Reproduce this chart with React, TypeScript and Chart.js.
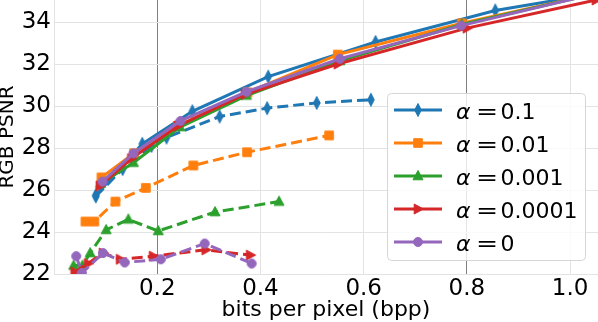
import React, { useEffect, useRef } from "react";
import { Chart, registerables } from "chart.js";

Chart.register(...registerables);

// ---- Data ----
const ALPHA_LABELS = ["0.1", "0.01", "0.001", "0.0001", "0"];
const COLORS = ["#1f77b4", "#ff7f0e", "#2ca02c", "#d62728", "#9467bd"];
const MARKERS = ["thinDiamond", "square", "triangleUp", "triangleRight", "circle"];

// solid curves
const bppSolidA1 = [0.081, 0.171, 0.268, 0.415, 0.623, 0.855, 1.06];
const psnrSolidA1 = [25.75, 28.2, 29.75, 31.4, 33.05, 34.55, 35.4];
const bppSolidA2 = [0.092, 0.155, 0.24, 0.375, 0.55, 0.79, 1.04];
const psnrSolidA2 = [26.6, 27.75, 29.05, 30.65, 32.45, 33.94, 35.3];
const bppSolidA3 = [0.09, 0.154, 0.244, 0.373, 0.554, 0.79, 1.04];
const psnrSolidA3 = [26.3, 27.3, 29.0, 30.5, 32.15, 33.88, 35.3];
const bppSolidA4 = [0.089, 0.15, 0.24, 0.37, 0.55, 0.8, 1.05];
const psnrSolidA4 = [26.2, 27.5, 29.05, 30.55, 32.0, 33.71, 35.05];
const bppSolidA5 = [0.094, 0.154, 0.245, 0.373, 0.554, 0.789, 1.04];
const psnrSolidA5 = [26.4, 27.75, 29.29, 30.68, 32.25, 33.83, 35.3];

// dashed curves
const bppDashA1 = [0.081, 0.133, 0.189, 0.218, 0.321, 0.413, 0.509, 0.614];
const psnrDashA1 = [25.7, 27.0, 28.1, 28.5, 29.5, 29.9, 30.15, 30.3];
const bppDashA2 = [0.061, 0.078, 0.119, 0.178, 0.27, 0.374, 0.533];
const psnrDashA2 = [24.5, 24.5, 25.45, 26.1, 27.17, 27.8, 28.6];
const bppDashA3 = [0.038, 0.055, 0.07, 0.101, 0.144, 0.202, 0.312, 0.436];
const psnrDashA3 = [22.4, 22.4, 23.0, 24.1, 24.6, 24.05, 24.95, 25.45];
const bppDashA4 = [0.04, 0.066, 0.095, 0.128, 0.192, 0.294, 0.38];
const psnrDashA4 = [22.1, 22.5, 23.0, 22.7, 22.85, 23.15, 22.9];
const bppDashA5 = [0.043, 0.054, 0.095, 0.137, 0.207, 0.292, 0.383];
const psnrDashA5 = [22.85, 22.05, 23.0, 22.55, 22.7, 23.45, 22.5];

const SOLID = [
  [bppSolidA1, psnrSolidA1],
  [bppSolidA2, psnrSolidA2],
  [bppSolidA3, psnrSolidA3],
  [bppSolidA4, psnrSolidA4],
  [bppSolidA5, psnrSolidA5],
];
const DASHED = [
  [bppDashA1, psnrDashA1],
  [bppDashA2, psnrDashA2],
  [bppDashA3, psnrDashA3],
  [bppDashA4, psnrDashA4],
  [bppDashA5, psnrDashA5],
];

const X_TICKS = [0.2, 0.4, 0.6, 0.8, 1.0];
const X_TICK_LABELS = ["0.2", "0.4", "0.6", "0.8", "1.0"];
const Y_TICKS = [22, 24, 26, 28, 30, 32, 34];
const Y_TICK_LABELS = ["22", "24", "26", "28", "30", "32", "34"];
const DARK_GRID_X = [0.2, 0.8];
const X_MIN = 0.0;
const X_MAX = 1.054;
const Y_MIN = 22;
const Y_MAX = 35.05;
const X_TITLE = "bits per pixel (bpp)";
const Y_TITLE = "RGB PSNR";

const FONT = "'DejaVu Sans', sans-serif";

function drawMarker(ctx: CanvasRenderingContext2D, kind: string, x: number, y: number, color: string) {
  ctx.save();
  ctx.fillStyle = color;
  ctx.strokeStyle = color;
  ctx.lineWidth = 1;
  ctx.beginPath();
  if (kind === "thinDiamond") {
    ctx.moveTo(x, y - 6.5);
    ctx.lineTo(x + 3.3, y);
    ctx.lineTo(x, y + 6.5);
    ctx.lineTo(x - 3.3, y);
    ctx.closePath();
  } else if (kind === "square") {
    ctx.rect(x - 4.3, y - 4.3, 8.6, 8.6);
  } else if (kind === "triangleUp") {
    ctx.moveTo(x, y - 5.5);
    ctx.lineTo(x + 5, y + 3.8);
    ctx.lineTo(x - 5, y + 3.8);
    ctx.closePath();
  } else if (kind === "triangleRight") {
    ctx.moveTo(x + 5.5, y);
    ctx.lineTo(x - 3.8, y - 5);
    ctx.lineTo(x - 3.8, y + 5);
    ctx.closePath();
  } else {
    ctx.arc(x, y, 4.5, 0, Math.PI * 2);
  }
  ctx.fill();
  ctx.stroke();
  ctx.restore();
}

function makeMarkerCanvas(kind: string, color: string): HTMLCanvasElement {
  const c = document.createElement("canvas");
  c.width = 18;
  c.height = 18;
  const ctx = c.getContext("2d")!;
  drawMarker(ctx, kind, 9, 9, color);
  return c;
}

const legendPlugin = {
  id: "customLegend",
  afterDraw(chart: any) {
    const ctx: CanvasRenderingContext2D = chart.ctx;
    const bx = 387, by = 93, bw = 198, bh = 167;
    ctx.save();
    ctx.beginPath();
    ctx.roundRect(bx + 0.5, by + 0.5, bw, bh, 4);
    ctx.fillStyle = "rgba(255,255,255,0.8)";
    ctx.fill();
    ctx.strokeStyle = "#d6d6d6";
    ctx.lineWidth = 1;
    ctx.stroke();
    for (let i = 0; i < ALPHA_LABELS.length; i++) {
      const y = 110 + i * 33;
      ctx.beginPath();
      ctx.moveTo(394, y);
      ctx.lineTo(442, y);
      ctx.strokeStyle = COLORS[i];
      ctx.lineWidth = 3;
      ctx.stroke();
      drawMarker(ctx, MARKERS[i], 418, y, COLORS[i]);
      ctx.fillStyle = "#000";
      ctx.textBaseline = "alphabetic";
      ctx.textAlign = "left";
      ctx.font = `italic 22px ${FONT}`;
      ctx.fillText("α", 456, y + 9.3);
      ctx.font = `22px ${FONT}`;
      ctx.save();
      ctx.translate(476, y + 9.3);
      ctx.scale(1.2, 1);
      ctx.fillText("=", 0, 0);
      ctx.restore();
      ctx.fillText(ALPHA_LABELS[i], 500.5, y + 9.3);
    }
    ctx.restore();
  },
};

export default function App() {
  const ref = useRef<HTMLCanvasElement | null>(null);

  useEffect(() => {
    document.body.style.margin = "0";
    const canvas = ref.current!;
    const datasets: any[] = [];
    const n = ALPHA_LABELS.length;
    for (let i = 0; i < n; i++) {
      const [xs, ys] = SOLID[i];
      const marker = makeMarkerCanvas(MARKERS[i], COLORS[i]);
      datasets.push({
        label: `α = ${ALPHA_LABELS[i]}`,
        data: xs.map((x, k) => ({ x, y: ys[k] })),
        borderColor: COLORS[i],
        backgroundColor: COLORS[i],
        borderWidth: 3,
        pointStyle: marker,
        pointRadius: 5,
        tension: 0,
        fill: false,
        order: 2 * n - (2 * i),
      });
      const [dx, dy] = DASHED[i];
      datasets.push({
        label: `α = ${ALPHA_LABELS[i]} (dashed)`,
        data: dx.map((x, k) => ({ x, y: dy[k] })),
        borderColor: COLORS[i],
        backgroundColor: COLORS[i],
        borderWidth: 3,
        borderDash: [11, 5],
        pointStyle: marker,
        pointRadius: 5,
        tension: 0,
        fill: false,
        order: 2 * n - (2 * i + 1),
      });
    }

    const chart = new Chart(canvas, {
      type: "line",
      data: { datasets },
      plugins: [legendPlugin],
      options: {
        animation: false,
        responsive: false,
        maintainAspectRatio: false,
        layout: { padding: 0, autoPadding: false },
        plugins: { legend: { display: false }, tooltip: { enabled: false } },
        scales: {
          x: {
            type: "linear",
            min: X_MIN,
            max: X_MAX,
            afterBuildTicks: (s: any) => {
              s.ticks = X_TICKS.map((v) => ({ value: v }));
            },
            afterFit: (s: any) => {
              s.height = 48;
              s.paddingLeft = 0;
              s.paddingRight = 0;
            },
            ticks: {
              callback: (v: any) => X_TICK_LABELS[X_TICKS.indexOf(v)] ?? "",
              font: { family: FONT, size: 23 },
              color: "#000",
              padding: 1,
              maxRotation: 0,
              autoSkip: false,
            },
            grid: {
              drawTicks: false,
              color: (c: any) => (c.tick && DARK_GRID_X.includes(c.tick.value) ? "#7f7f7f" : "#e3e3e3"),
              lineWidth: 1,
            },
            border: { display: false },
            title: {
              display: true,
              text: X_TITLE,
              font: { family: FONT, size: 22, lineHeight: 1.1 },
              color: "#000",
              padding: 0,
            },
          },
          y: {
            type: "linear",
            min: Y_MIN,
            max: Y_MAX,
            afterBuildTicks: (s: any) => {
              s.ticks = Y_TICKS.map((v) => ({ value: v }));
            },
            afterFit: (s: any) => {
              s.width = 54;
              s.paddingTop = 0;
              s.paddingBottom = 0;
            },
            ticks: {
              callback: (v: any) => Y_TICK_LABELS[Y_TICKS.indexOf(v)] ?? "",
              font: { family: FONT, size: 23 },
              color: "#000",
              padding: 3,
              autoSkip: false,
            },
            grid: { drawTicks: false, color: "#e3e3e3", lineWidth: 1 },
            border: { display: true, color: "#e3e3e3" },
            title: {
              display: true,
              text: Y_TITLE,
              font: { family: FONT, size: 20, lineHeight: 0.8 },
              color: "#000",
              padding: 0,
            },
          },
        },
      },
    });
    return () => chart.destroy();
  }, []);

  return (
    <div style={{ width: 598, height: 322 }}>
      <canvas ref={ref} width={598} height={322} style={{ display: "block" }} />
    </div>
  );
}
